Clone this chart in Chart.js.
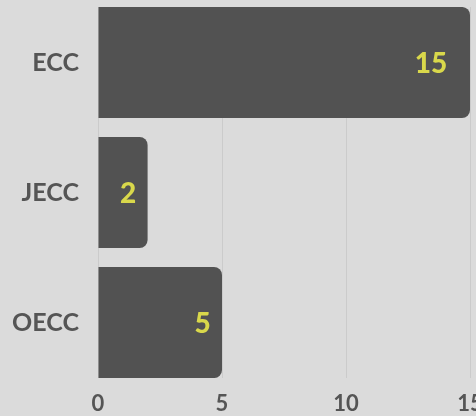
<!DOCTYPE html>
<html>
<head>
<meta charset="utf-8">
<script src="https://cdn.jsdelivr.net/npm/chart.js@4/dist/chart.umd.min.js"></script>
<style>
  html, body { margin: 0; padding: 0; background: #dbdbdb; }
  #wrap { width: 476px; height: 416px; }
</style>
</head>
<body>
<div id="wrap"><canvas id="c" width="476" height="416"></canvas></div>
<script>
const categories = ['ECC', 'JECC', 'OECC'];
const values = [15, 2, 5];
const xTicks = [0, 5, 10, 15];

const labelFont = "Lato, 'Open Sans', sans-serif";

const valueLabels = {
  id: 'valueLabels',
  afterDatasetsDraw(chart) {
    const ctx = chart.ctx;
    const meta = chart.getDatasetMeta(0);
    ctx.save();
    ctx.font = "900 28px " + labelFont;
    ctx.fillStyle = '#d9d84b';
    ctx.textAlign = 'center';
    ctx.textBaseline = 'middle';
    meta.data.forEach((bar, i) => {
      const txt = String(values[i]);
      const w = ctx.measureText(txt).width;
      ctx.fillText(txt, bar.x - 1.2 * w, bar.y + 1);
    });
    ctx.restore();
  }
};

const halfBand = 0.4269;
const yMin = -halfBand;
const yMax = categories.length - 1 + halfBand;

new Chart(document.getElementById('c'), {
  type: 'bar',
  data: {
    datasets: [{
      data: values.map((v, i) => ({ x: v, y: i })),
      backgroundColor: '#525252',
      borderWidth: 0,
      borderRadius: 8,
      borderSkipped: 'start',
      categoryPercentage: 1,
      barPercentage: 0.854
    }]
  },
  options: {
    indexAxis: 'y',
    responsive: false,
    animation: false,
    layout: { padding: { top: 7, right: 6, left: 0, bottom: 0 } },
    plugins: { legend: { display: false }, tooltip: { enabled: false } },
    scales: {
      x: {
        type: 'linear',
        min: xTicks[0],
        max: xTicks[xTicks.length - 1],
        afterBuildTicks: (s) => { s.ticks = xTicks.map(v => ({ value: v })); },
        afterFit: (s) => { s.paddingLeft = 0; s.paddingRight = 0; s.height = 38; },
        grid: { color: '#cbcbcb', lineWidth: 1, drawTicks: false },
        border: { display: false },
        ticks: {
          color: '#555555',
          padding: 13,
          font: { family: labelFont, size: 22, weight: 'bold' }
        }
      },
      y: {
        type: 'linear',
        reverse: true,
        offset: false,
        bounds: 'data',
        min: yMin,
        max: yMax,
        afterBuildTicks: (s) => {
          s.ticks = categories.map((c, i) => ({ value: i }));
          s.min = yMin;
          s.max = yMax;
        },
        afterFit: (s) => { s.width = 98; s.paddingTop = 0; s.paddingBottom = 0; },
        grid: { display: false, drawTicks: false, offset: false },
        border: { display: false },
        ticks: {
          color: '#555555',
          padding: 19,
          includeBounds: false,
          font: { family: labelFont, size: 25, weight: 'bold' },
          callback: (v) => categories[v]
        }
      }
    }
  },
  plugins: [valueLabels]
});
</script>
</body>
</html>
